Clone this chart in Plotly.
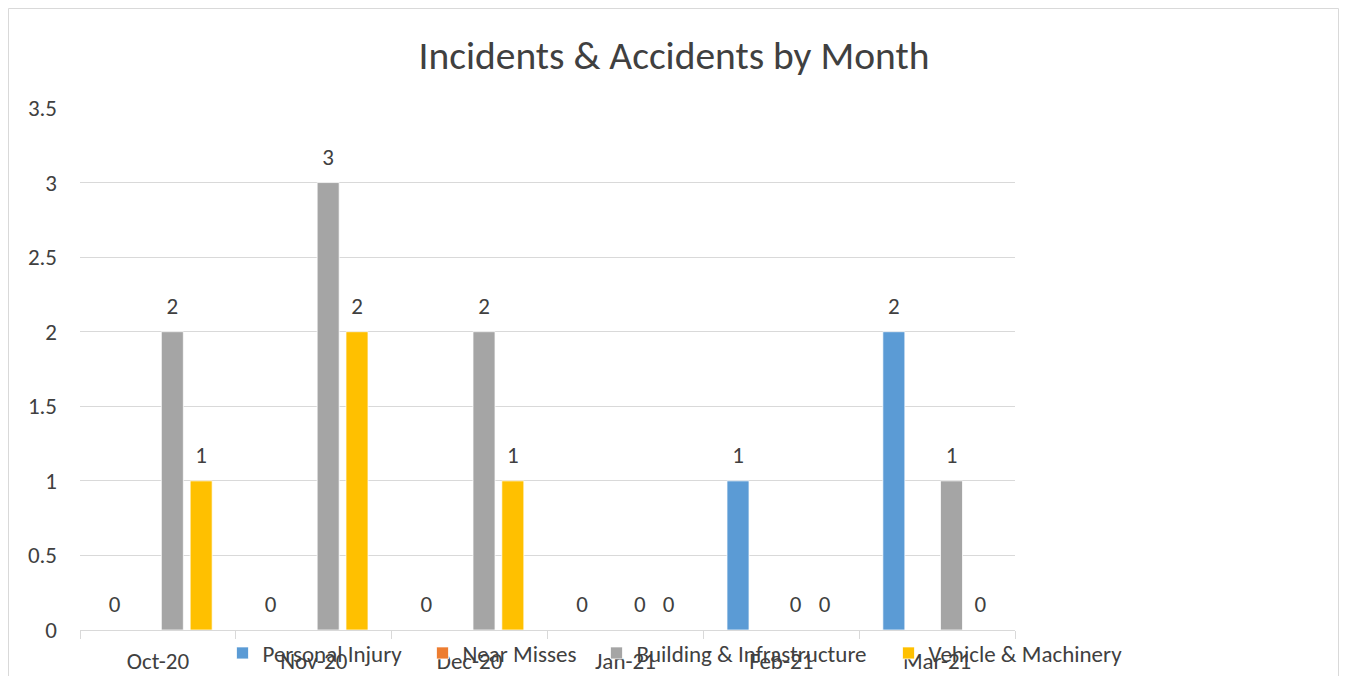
import plotly.graph_objects as go

months = ["Oct-20", "Nov-20", "Dec-20", "Jan-21", "Feb-21", "Mar-21"]
personal_injury = [0, 0, 0, 0, 1, 2]
near_misses = [None, None, None, None, None, None]
building_infra = [2, 3, 2, 0, 0, 1]
vehicle_machinery = [1, 2, 1, 0, 0, 0]
y_ticks = [0, 0.5, 1, 1.5, 2, 2.5, 3, 3.5]

series = [
    ("Personal Injury", personal_injury, "#5B9BD5"),
    ("Near Misses", near_misses, "#ED7D31"),
    ("Building & Infrastructure", building_infra, "#A5A5A5"),
    ("Vehicle & Machinery", vehicle_machinery, "#FFC000"),
]
# legend square left edges (page pixels) in the reference
legend_sq = [238, 438, 612, 904]

FONT = "Calibri, Carlito, Lato, sans-serif"
TXT = "#404040"
OFF = 8  # browser body margin
W, H = 1347 - 2 * OFF, 684 - 2 * OFF
# plot area in page pixels
PL, PR, PT, PB = 80, 1015, 108, 630
L, R, T, B = PL - OFF, PR - OFF, PT - OFF, PB - OFF

pw, ph = R - L, B - T
def px_x(p):
    return (p - OFF - L) / pw
def px_y(p):
    return (B - (p - OFF)) / ph

legend_names = ["legend", "legend2", "legend3", "legend4"]
GAP = 0.26

fig = go.Figure()
for (name, vals, color), lg in zip(series, legend_names):
    fig.add_trace(go.Bar(
        name=name, x=months, y=vals, legend=lg,
        marker=dict(color=color, line=dict(color="white", width=0.75)),
        hoverinfo="x+y+name",
    ))
# data labels, grouped the same way as the bars
for name, vals, color in series:
    fig.add_trace(go.Scatter(
        x=months, y=vals, mode="markers+text", showlegend=False,
        text=[None if v is None else str(v) for v in vals],
        textposition="top center", cliponaxis=False,
        marker=dict(size=18, color="rgba(0,0,0,0)"),
        textfont=dict(family=FONT, size=23, color=TXT),
        hoverinfo="skip",
    ))

legend_layout = {}
for lg, sq in zip(legend_names, legend_sq):
    legend_layout[lg] = dict(orientation="h", x=px_x(sq - 15.5), xanchor="left",
                             y=px_y(653), yanchor="middle",
                             font=dict(family=FONT, size=23, color=TXT),
                             bgcolor="rgba(0,0,0,0)")

fig.update_layout(
    width=W, height=H,
    margin=dict(l=L, r=W - R, t=T, b=H - B, pad=0, autoexpand=False),
    paper_bgcolor="white", plot_bgcolor="white",
    barmode="group", bargap=GAP, bargroupgap=0.236,
    scattermode="group", scattergap=GAP,
    font=dict(family=FONT, size=23, color=TXT),
    title=dict(text="Incidents &amp; Accidents by Month", x=(674 - OFF) / W, xanchor="center",
               y=1 - (55 - OFF) / H, yanchor="middle", yref="container",
               font=dict(family=FONT, size=39.5, color=TXT)),
    showlegend=True,
    xaxis=dict(showgrid=False, showline=True, linecolor="#D9D9D9", linewidth=1,
               ticks="outside", tickson="boundaries", ticklen=8, tickcolor="#D9D9D9",
               ticklabelstandoff=10, automargin=False,
               tickfont=dict(family=FONT, size=23, color=TXT), fixedrange=True),
    yaxis=dict(range=[0, 3.5], tickvals=y_ticks, ticktext=[f"{v:g}" for v in y_ticks],
               showgrid=True, gridcolor="#D9D9D9", gridwidth=1, zeroline=False,
               showline=False, ticks="", ticklabelstandoff=22, automargin=False,
               tickfont=dict(family=FONT, size=23, color=TXT), fixedrange=True),
    shapes=[dict(type="rect", xref="paper", yref="paper",
                 x0=px_x(8.5), x1=px_x(1338.5), y0=px_y(720), y1=px_y(8.5),
                 line=dict(color="#D9D9D9", width=1), fillcolor="rgba(0,0,0,0)", layer="below")],
    **legend_layout,
)

fig.write_html("out.html")
